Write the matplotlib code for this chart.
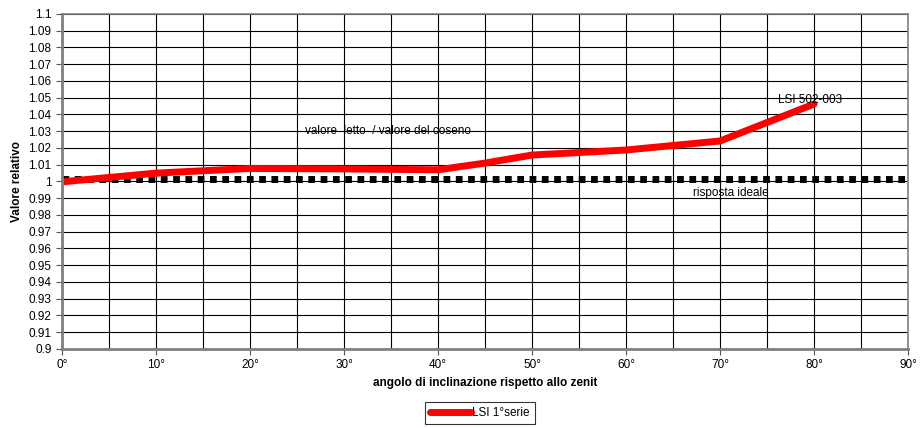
import matplotlib.pyplot as plt
import numpy as np

plt.rcParams['font.family'] = ['Liberation Sans', 'DejaVu Sans']
plt.rcParams['font.size'] = 8.5

angles = [0, 10, 20, 30, 40, 45, 50, 60, 70, 80]
lsi = [0.9998, 1.005, 1.0078, 1.0075, 1.007, 1.011, 1.0158, 1.0188, 1.0242, 1.0463]
ideal_x = [0, 90]
ideal_y = [1.0016, 1.0016]
xticks = list(range(0, 91, 10))
xlabels = [f"{a}°" for a in xticks]
yticks = np.round(np.arange(0.90, 1.1001, 0.01), 2)
ylabels = [f"{v:g}" for v in yticks]

fig = plt.figure(figsize=(9.22, 4.28), dpi=100)
ax = fig.add_axes([0.0672, 0.1846, 0.9178, 0.7827])

ax.set_xlim(0, 90)
ax.set_ylim(0.9, 1.1)
ax.set_xticks(xticks)
ax.set_xticklabels(xlabels)
ax.set_xticks(range(5, 90, 10), minor=True)
ax.set_yticks(yticks)
ax.set_yticklabels(ylabels)
ax.grid(True, which='both', color='black', linewidth=0.8)
ax.tick_params(axis='x', which='minor', length=0)
ax.tick_params(axis='both', which='major', length=4, color='#555555')
ax.set_axisbelow(True)

for s in ['left', 'bottom']:
    ax.spines[s].set_color('#808080')
    ax.spines[s].set_linewidth(2)
for s in ['top', 'right']:
    ax.spines[s].set_color('#808080')
    ax.spines[s].set_linewidth(1.2)

# risposta ideale (dotted) and measured series
ax.plot(ideal_x, ideal_y, color='black', linewidth=5, linestyle=(0, (0.97, 0.8)))
ax.plot(angles, lsi, color='red', linewidth=5, label='LSI 1°serie', solid_capstyle='round')

ax.text(25.9, 1.030, 'valore  letto  / valore del coseno', va='center')
ax.text(76.2, 1.0487, 'LSI 502-003', va='center')
ax.text(67.1, 0.9931, 'risposta ideale', va='center')

ax.set_xlabel('angolo di inclinazione rispetto allo zenit', fontweight='bold', labelpad=4)
ax.set_ylabel('Valore relativo', fontweight='bold', labelpad=4)

leg = fig.legend(loc='center', bbox_to_anchor=(0.5205, 0.035), frameon=True, fancybox=False,
                 edgecolor='black', handlelength=3.5, handletextpad=0.1, borderpad=0.4)
leg.get_frame().set_linewidth(0.8)

fig.savefig('out.png', dpi=100)
